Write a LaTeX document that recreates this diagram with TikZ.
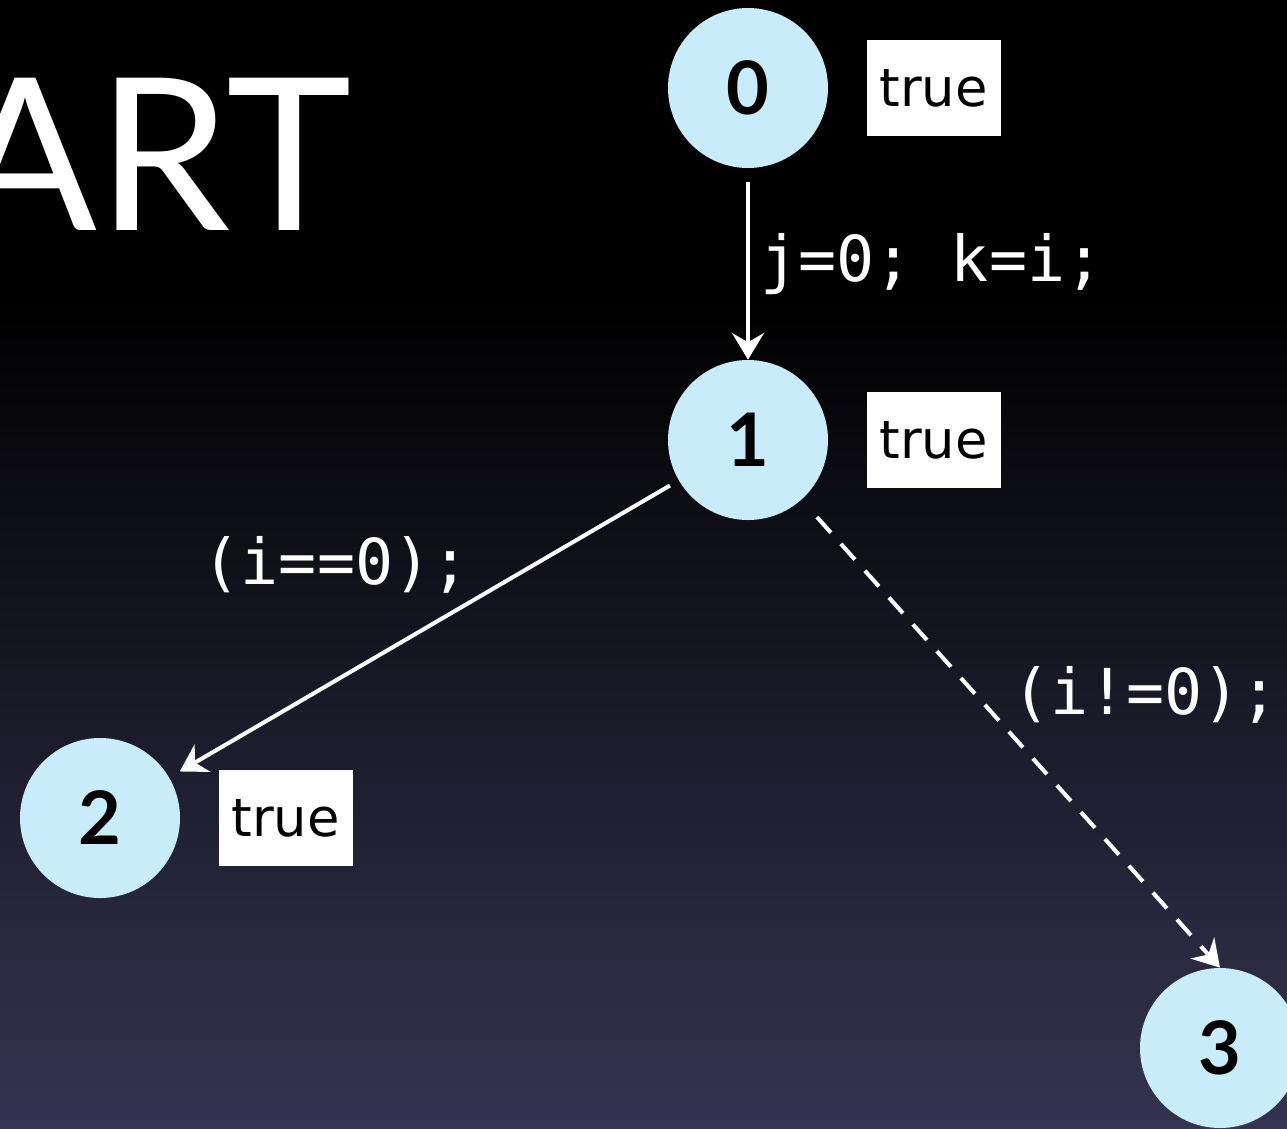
\documentclass[tikz,border=0pt]{standalone}
\usepackage{fontspec}
\usepackage{tikz}
\usetikzlibrary{positioning,arrows.meta}
\newfontfamily\numfont{Lato}
\newfontfamily\truefont{DejaVu Sans}
\newfontfamily\codefont{DejaVu Sans Mono}
\definecolor{stateblue}{RGB}{200,236,250}
\definecolor{skymid}{RGB}{14,14,48}
\definecolor{skybot}{RGB}{52,52,82}

\tikzset{
  state/.style={circle, fill=stateblue, minimum size=3.2cm, inner sep=0pt,
    font=\numfont\bfseries\fontsize{42}{42}\selectfont},
  truebox/.style={fill=white, minimum width=2.68cm, minimum height=1.92cm,
    inner sep=0pt, font=\truefont\fontsize{30}{30}\selectfont},
  code/.style={text=white, inner sep=2pt, font=\codefont\fontsize{36}{36}\selectfont},
  edge/.style={white, line width=2.3pt, -{Stealth[length=15pt, width=18pt, inset=5pt]}}
}

\begin{document}
\begin{tikzpicture}[x=0.2mm, y=-0.2mm]
    % Background
    \fill[black] (0,0) rectangle (1287,300);
    \shade[top color=black, middle color=skymid, bottom color=skybot]
        (0,300) rectangle (1287,1128);
    \useasboundingbox (0,0) rectangle (1287,1128);

    % Title, cut at the left edge
    \node[anchor=base east, inner sep=0pt, text=white,
        font=\numfont\fontsize{121}{121}\selectfont] (title) at (352,230) {ART};

    % States
    \node[state] (n0) at (748,88) {0};
    \node[state] (n1) at (748,440) {1};
    \node[state] (n2) at (100,818) {2};
    \node[state] (n3) at (1220,1048) {3};

    % Conditions
    \foreach \n in {0,1,2}
        \node[truebox, right=0.76cm of n\n] (t\n) {true};

    % Edges
    \draw[edge, shorten <=0.28cm] (n0)
        -- node[code, midway, right, xshift=4pt] (l01) {j=0; k=i;} (n1);
    \draw[edge, shorten <=0.2cm, shorten >=0.24cm] (n1)
        -- node[code, pos=0.4, anchor=south east] (l12) {(i==0);} (n2);
    \draw[edge, dash pattern=on 0.42cm off 0.3cm, shorten <=0.46cm] (n1)
        -- node[code, pos=0.49, anchor=south west] (l13) {(i!=0);} (n3.north);

\end{tikzpicture}
\end{document}
